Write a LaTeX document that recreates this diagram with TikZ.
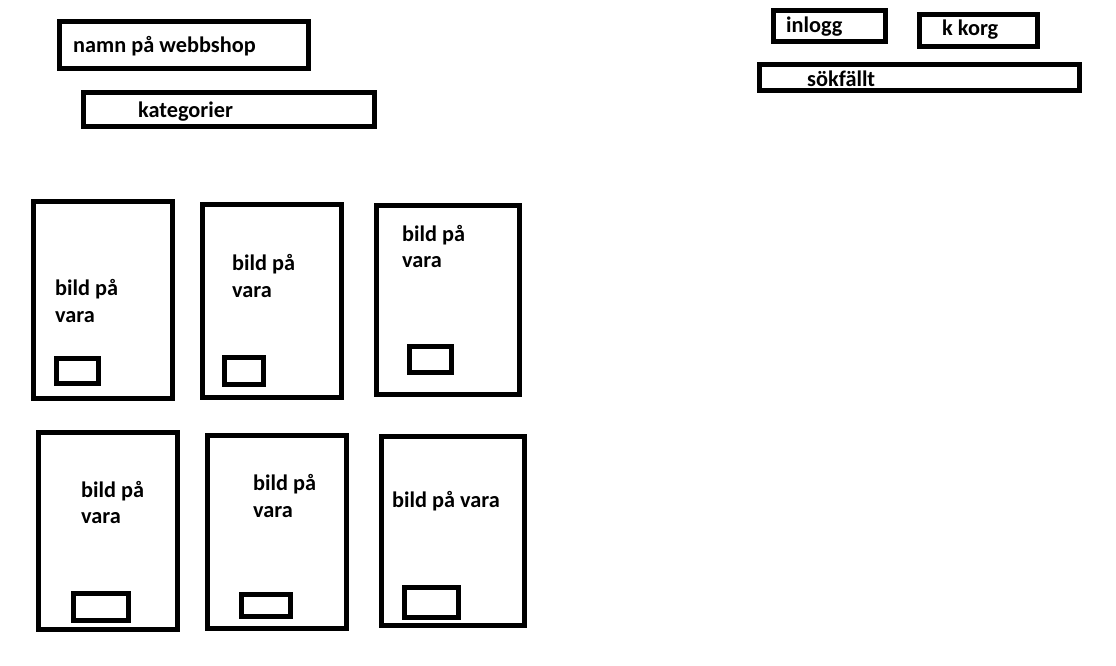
\documentclass[tikz,border=0pt]{standalone}
\usepackage{fontspec}
\setmainfont{Carlito}
\begin{document}
\begin{tikzpicture}[x=1pt,y=-1pt,
  box/.style={draw=black, line width=4.7pt, inner sep=0pt, outer sep=0pt, fill=none},
  lbl/.style={anchor=base west, inner sep=0pt, font=\fontsize{22.3}{27}\selectfont\bfseries, text=black}]
\useasboundingbox[fill=white] (0,0) rectangle (1116,666);
% header
\node[box, minimum width=249pt, minimum height=47pt] (namn) at (184,45) {};
\node[box, minimum width=291pt, minimum height=34pt] (kat) at (229,109.5) {};
\node[box, minimum width=112pt, minimum height=31pt] (inlogg) at (829.5,26) {};
\node[box, minimum width=118pt, minimum height=32pt] (korg) at (978.5,30.5) {};
\node[box, minimum width=320pt, minimum height=26pt] (sok) at (919.5,77.5) {};
\node[lbl] (tnamn) at (73,53) {namn på webbshop};
\node[lbl] (tkat) at (138,118) {kategorier};
\node[lbl] (tinlogg) at (786,33) {inlogg};
\node[lbl] (tkorg) at (942,36) {k korg};
\node[lbl] (tsok) at (807,87) {sökfällt};
% cards row 1
\node[box, minimum width=139pt, minimum height=197pt] (c1) at (103,300) {};
\node[box, minimum width=42pt, minimum height=25pt] (b1) at (77.5,371) {};
\node[lbl] (c1a) at (55,295) {bild på};
\node[lbl] (c1b) at (55,322) {vara};
\node[box, minimum width=139pt, minimum height=193pt] (c2) at (272,301) {};
\node[box, minimum width=39pt, minimum height=27pt] (b2) at (244,371) {};
\node[lbl] (c2a) at (232,270) {bild på};
\node[lbl] (c2b) at (232,297) {vara};
\node[box, minimum width=143pt, minimum height=189pt] (c3) at (448,300) {};
\node[box, minimum width=42pt, minimum height=26pt] (b3) at (430.5,359.5) {};
\node[lbl] (c3a) at (402,241) {bild på};
\node[lbl] (c3b) at (402,267) {vara};
% cards row 2
\node[box, minimum width=139pt, minimum height=197pt] (c4) at (108,531) {};
\node[box, minimum width=55pt, minimum height=27pt] (b4) at (101,607) {};
\node[lbl] (c4a) at (81,497) {bild på};
\node[lbl] (c4b) at (81,523) {vara};
\node[box, minimum width=139pt, minimum height=193pt] (c5) at (277,532) {};
\node[box, minimum width=49pt, minimum height=22pt] (b5) at (266,605.5) {};
\node[lbl] (c5a) at (253,490) {bild på};
\node[lbl] (c5b) at (253,517) {vara};
\node[box, minimum width=143pt, minimum height=189pt] (c6) at (453,531) {};
\node[box, minimum width=54pt, minimum height=30pt] (b6) at (431.5,602.5) {};
\node[lbl] (c6a) at (392,507) {bild på vara};
\end{tikzpicture}
\end{document}
